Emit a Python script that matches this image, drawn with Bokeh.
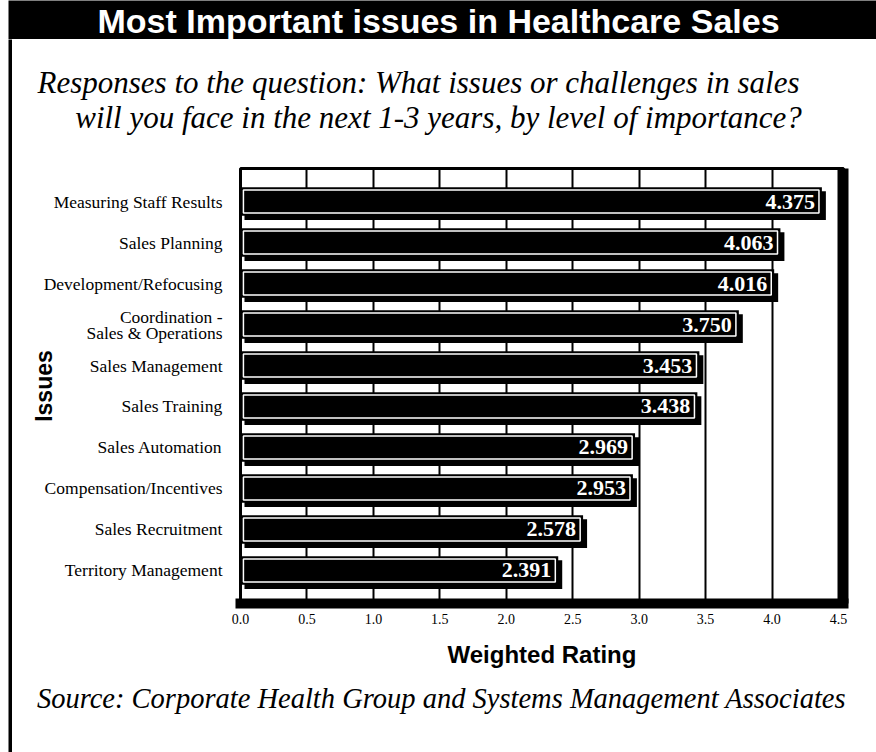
from bokeh.plotting import figure
from bokeh.layouts import row, column
from bokeh.models import (FactorRange, Range1d, FixedTicker, Label, ColumnDataSource,
                          NumeralTickFormatter, CategoricalAxis, Spacer)
from bokeh.transform import dodge
from bokeh.embed import file_html
from bokeh.resources import INLINE

# ---- data ----
issues = [
    "Measuring Staff Results",
    "Sales Planning",
    "Development/Refocusing",
    "Coordination -\nSales & Operations",
    "Sales Management",
    "Sales Training",
    "Sales Automation",
    "Compensation/Incentives",
    "Sales Recruitment",
    "Territory Management",
]
ratings = [4.375, 4.063, 4.016, 3.750, 3.453, 3.438, 2.969, 2.953, 2.578, 2.391]
x_ticks = [0.0, 0.5, 1.0, 1.5, 2.0, 2.5, 3.0, 3.5, 4.0, 4.5]

title_text = "Most Important issues in Healthcare Sales"
subtitle_1 = "Responses to the question: What issues or challenges in sales"
subtitle_2 = "will you face in the next 1-3 years, by level of importance?"
source_text = "Source: Corporate Health Group and Systems Management Associates"


def panel(w, h, bg):
    f = figure(width=w, height=h, output_backend="svg", toolbar_location=None,
               x_range=Range1d(0, w), y_range=Range1d(0, h), min_border=0,
               x_axis_location=None, y_axis_location=None)
    f.grid.visible = False
    f.outline_line_color = None
    f.background_fill_color = bg
    f.border_fill_color = bg
    return f


def put(f, text, x, y_top, size, font, style="normal", color="black", angle=0):
    f.add_layout(Label(x=x, y=f.height - y_top, text=text, text_align="center",
                       text_baseline="middle", text_font=font, text_font_size=size,
                       text_font_style=style, text_color=color, angle=angle))


# --- title bar (canvas x 8..876, y 0..39)
title_fig = panel(868, 39, "black")
put(title_fig, title_text, 430, 20, "34px", "Liberation Sans", "bold", "white")

# --- left border strip (canvas x 8..12, y 39..752)
strip = panel(4, 713, "black")

# --- subtitle (canvas x 12..876, y 39..140)
sub_fig = panel(864, 101, "white")
put(sub_fig, subtitle_1, 406, 43, "31px", "Liberation Serif", "italic")
put(sub_fig, subtitle_2, 426, 78, "31px", "Liberation Serif", "italic")

# --- main chart (canvas x 12..876, y 140..680)
MAIN_X0, MAIN_Y0, MAIN_W, MAIN_H = 12, 140, 864, 540
FL, FT = 240, 168           # frame left/top in canvas px
X0PX, X45PX = 240, 838      # where 0.0 and 4.5 sit
FR, FB = 843, 603           # frame right/bottom (shadow band centred on these)
px_per_unit = (X45PX - X0PX) / 4.5

factors = list(reversed(issues))
p = figure(width=MAIN_W, height=MAIN_H, output_backend="svg", toolbar_location=None,
           x_range=Range1d(0, (FR - FL) / px_per_unit),
           y_range=FactorRange(factors=factors, range_padding=0.305,
                               range_padding_units="absolute"),
           min_border_left=FL - MAIN_X0, min_border_right=MAIN_X0 + MAIN_W - FR,
           min_border_top=FT - MAIN_Y0, min_border_bottom=MAIN_Y0 + MAIN_H - FB)
p.background_fill_color = "white"
p.border_fill_color = "white"
p.outline_line_color = "black"
p.outline_line_width = 3

src = ColumnDataSource(dict(
    cat=issues,
    val=ratings,
    shadow_val=[v + 0.03 for v in ratings],
    inner_right=[v - 0.022 for v in ratings],
    inner_left=[0.022] * len(ratings),
    label=["%.3f" % v for v in ratings],
))

p.hbar(y=dodge("cat", -0.1, range=p.y_range), left=0.03, right="shadow_val",
       height=0.7, source=src, fill_color="black", line_color=None)
p.hbar(y="cat", left=0, right="val", height=0.7, source=src,
       fill_color="black", line_color=None)
p.hbar(y="cat", left="inner_left", right="inner_right", height=0.56, source=src,
       fill_alpha=0, line_color="white", line_width=1.5)
p.text(x="val", y="cat", text="label", source=src, x_offset=-7,
       text_align="right", text_baseline="middle", text_color="white",
       text_font_size="22px", text_font_style="bold",
       text_font={"value": "Liberation Serif"})

p.ygrid.grid_line_color = None
p.xgrid.ticker = FixedTicker(ticks=x_ticks)
p.xgrid.grid_line_color = "black"
p.xgrid.grid_line_width = 2

xa = p.xaxis[0]
xa.ticker = FixedTicker(ticks=x_ticks)
xa.formatter = NumeralTickFormatter(format="0.0")
xa.axis_line_color = "black"
xa.axis_line_width = 10
xa.axis_line_cap = "square"
xa.major_tick_line_color = None
xa.minor_tick_line_color = None
xa.major_tick_out = 0
xa.major_tick_in = 0
xa.major_label_standoff = 10
xa.major_label_text_font = "Liberation Serif"
xa.major_label_text_font_size = "14px"
xa.major_label_text_color = "black"
xa.axis_label = "Weighted Rating"
xa.axis_label_text_font = "Liberation Sans"
xa.axis_label_text_font_style = "bold"
xa.axis_label_text_font_size = "24px"
xa.axis_label_text_color = "black"
xa.axis_label_standoff = 14

ya = p.yaxis[0]
ya.axis_line_color = None
ya.major_tick_line_color = None
ya.minor_tick_line_color = None
ya.major_tick_out = 0
ya.major_tick_in = 0
ya.major_label_standoff = 18
ya.major_label_text_font = "Liberation Serif"
ya.major_label_text_font_size = "17.5px"
ya.major_label_text_color = "black"
ya.major_label_text_line_height = 0.8
ya.axis_label = "Issues"
ya.axis_label_text_font = "Liberation Sans"
ya.axis_label_text_font_style = "bold"
ya.axis_label_text_font_size = "23px"
ya.axis_label_text_color = "black"
ya.axis_label_standoff = -16

# right-hand drop shadow of the chart box (an unlabeled axis rule)
ra = CategoricalAxis(ticker=FixedTicker(ticks=[]),
                     axis_line_color="black", axis_line_width=10, axis_line_cap="butt",
                     major_tick_line_color=None, minor_tick_line_color=None,
                     major_tick_out=0, major_tick_in=0, major_label_standoff=0)
p.add_layout(ra, "right")

# --- source line (canvas x 12..876, y 680..752)
src_fig = panel(864, 72, "white")
put(src_fig, source_text, 429, 18, "28.5px", "Liberation Serif", "italic")

layout = row(Spacer(width=8, height=752),
             column(title_fig,
                    row(strip, column(sub_fig, row(p, spacing=0), src_fig, spacing=0),
                        spacing=0),
                    spacing=0),
             spacing=0)

open("out.html", "w").write(file_html(layout, INLINE))
